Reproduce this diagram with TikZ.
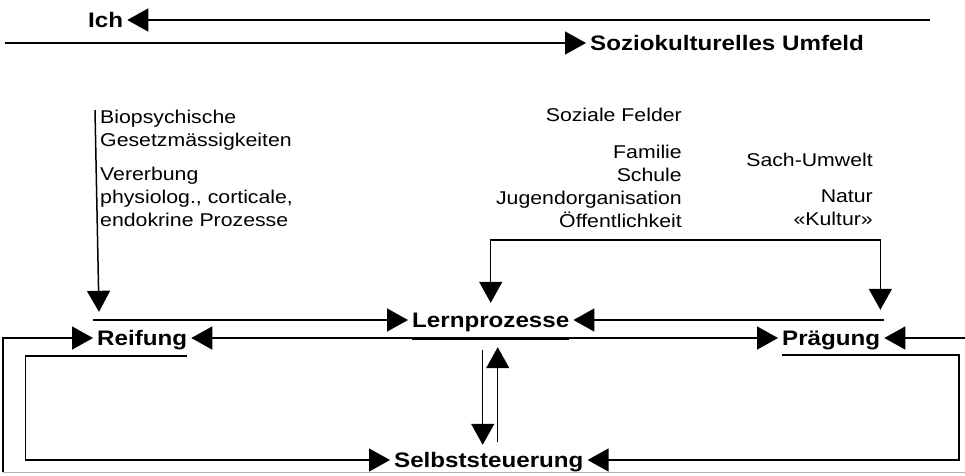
\documentclass[tikz,border=0pt]{standalone}
\usepackage{fontspec}
\setmainfont[FakeStretch=1.15]{Liberation Sans}
\usetikzlibrary{arrows.meta,calc}

\begin{document}
\begin{tikzpicture}[x=1pt,y=-1pt]
				\tikzstyle{lbl}=[font=\fontsize{21}{24}\selectfont\bfseries, inner xsep=4pt, inner ysep=0pt, text height=14pt, text depth=0pt]
				\tikzstyle{txt}=[font=\fontsize{18.5}{23}\selectfont, inner sep=0pt]
				\tikzstyle{arr}=[line width=1.5pt, -{Triangle[length=21pt,width=23pt]}]
				\tikzstyle{dbl}=[line width=1.5pt, {Triangle[length=21pt,width=23pt]}-{Triangle[length=21pt,width=23pt]}]
				\useasboundingbox (0,0) rectangle (965,475);
				\node[lbl, anchor=base west] (ich) at (84,27) {Ich};
				\node[lbl, anchor=base west] (sozio) at (586,50) {Soziokulturelles Umfeld};
				\coordinate (ichR) at (930,20);
				\coordinate (sozL) at (5,43);
				\draw[arr] (ichR) -- (ich.east);
				\draw[arr] (sozL) -- (sozio.west);
				\node[txt, anchor=north west, align=left] (bio) at (100,110) {Biopsychische\\Gesetzmässigkeiten\\[11pt]Vererbung\\physiolog., corticale,\\endokrine Prozesse};
				\node[txt, anchor=base east] (soz) at (682,121) {Soziale Felder};
				\node[txt, anchor=north east, align=right] (fam) at (682,145) {Familie\\Schule\\Jugendorganisation\\Öffentlichkeit};
				\node[txt, anchor=base east] (sach) at (873,166) {Sach-Umwelt};
				\node[txt, anchor=north east, align=right] (natur) at (873,190) {Natur\\«Kultur»};
				\node[lbl, anchor=base west] (Reifung) at (93,345) {Reifung};
				\node[lbl, anchor=base west] (Lern) at (408,327) {Lernprozesse};
				\node[lbl, anchor=base west] (Prag) at (778,345) {Prägung};
				\node[lbl, anchor=base west] (Selbst) at (390,467) {Selbststeuerung};
				\draw[arr] ($(bio.north west)+(-5,0)$) -- ($(Reifung.north west)+(6,-19)$);
				\draw[dbl] ($(Lern.north)+(0,-10)$) |- ($(Prag.north east)+(-4,-91)$) -- ($(Prag.north east)+(-4,-21)$);
				\draw[arr] (Reifung.west |- Lern.west) -- (Lern.west);
				\draw[arr] (Prag.east |- Lern.east) -- (Lern.east);
				\draw[arr] (Lern.south east |- Reifung.east) -- (Reifung.east);
				\draw[arr] (Lern.south west |- Prag.west) -- (Prag.west);
				\draw[line width=3pt] ($(Lern.south west |- Prag.west)+(4,0)$) -- ($(Lern.south east |- Prag.west)+(-4,0)$);
				\draw[arr] ($(Lern.south)+(-8,23)$) -- ($(Lern.south |- Selbst.north)+(-8,-8)$);
				\draw[arr] ($(Lern.south |- Selbst.north)+(7,-11)$) -- ($(Lern.south)+(7,20)$);
				\draw[arr] ($(Reifung.south east)+(-4,11)$) -- ++(-162,0) |- (Selbst.west);
				\draw[arr] ($(Prag.south west)+(4,10)$) -- ++(177,0) |- (Selbst.east);
				\coordinate (botL) at (3,472);
				\coordinate (botR) at (965,472);
				\coordinate (prR) at (965,338);
				\draw[gray!60, line width=1pt] (botL) -- (botR);
				\draw[arr] (botL) |- (Reifung.west);
				\draw[arr] (prR) -- (Prag.east);
			\end{tikzpicture}
\end{document}
